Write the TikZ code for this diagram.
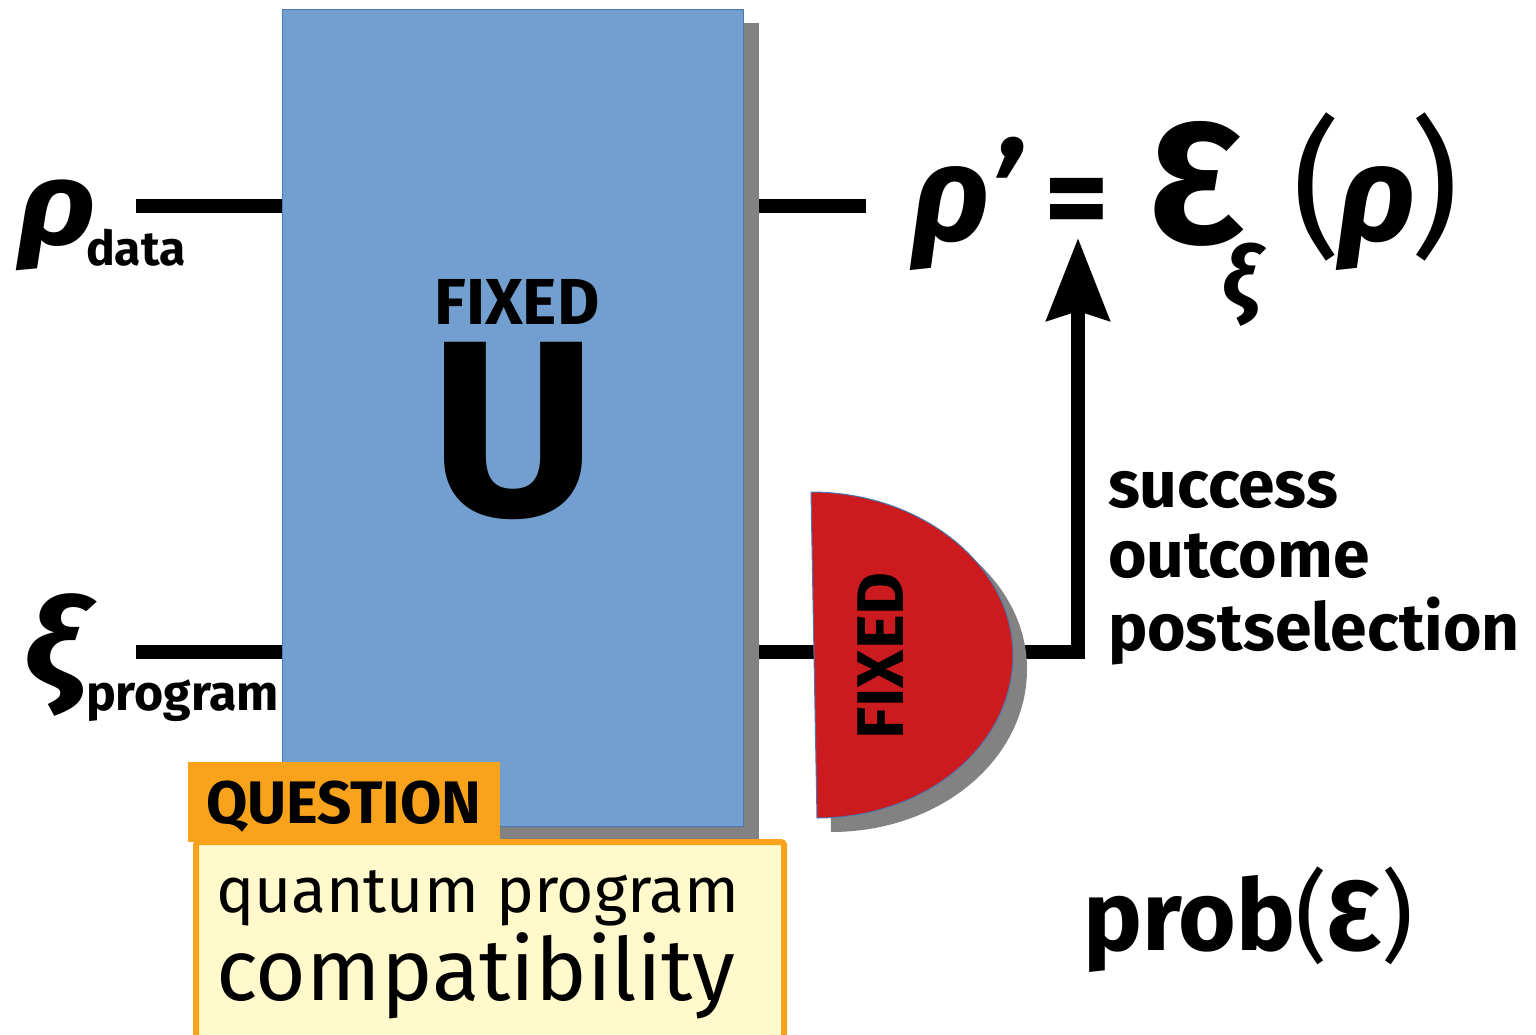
\documentclass[tikz,border=0pt]{standalone}
\usepackage{fontspec}
\setmainfont{Fira Sans}
\usetikzlibrary{arrows.meta}
\definecolor{ublue}{HTML}{729FCF}
\definecolor{ubluedark}{HTML}{4A78B0}
\definecolor{shadowgray}{HTML}{828282}
\definecolor{dred}{HTML}{CC1B1F}
\definecolor{qorange}{HTML}{F8A31B}
\definecolor{qyellow}{HTML}{FFF9CC}
\newcommand{\fs}[1]{\fontsize{#1}{#1}\selectfont}
\begin{document}
\begin{tikzpicture}[x=1pt,y=-1pt,
  wire/.style={line width=14pt, line join=miter},
  lbl/.style={inner sep=0pt, outer sep=0pt, anchor=base west},
  bigB/.style={lbl, font=\fs{#1}\bfseries},
  bigI/.style={lbl, font=\fs{#1}\bfseries\itshape},
  bigR/.style={lbl, font=\fs{#1}}]
\useasboundingbox (0,0) rectangle (1536,1034);

% ---- blue unitary box (node) ----
\fill[shadowgray] (298,23) rectangle (759,840);
\node[draw=ubluedark, fill=ublue, line width=1pt, inner sep=0pt,
      minimum width=461pt, minimum height=817pt] (U) at (512.5,417.5) {};

% ---- coordinates ----
\coordinate (rdL) at (136,206);
\coordinate (rhoout) at (866,206);
\coordinate (prL) at (136,652);
\coordinate (Din) at (830,652);
\coordinate (Dout) at (1010,652);
\coordinate (tip) at (1078,238);

% ---- wires ----
\draw[wire] (rdL) -- (U.west |- rdL);
\draw[wire] (U.east |- rdL) -- (rhoout);
\draw[wire] (prL) -- (U.west |- prL);
\draw[wire] (U.east |- prL) -- (Din);
\draw[wire, -{Stealth[length=82pt, width=62pt, inset=9pt]}] (Dout) -- (Dout -| tip) -- (tip);

% redraw shadow strip and box over wire ends
\fill[shadowgray] (744,23) rectangle (759,840);
\node[draw=ubluedark, fill=ublue, line width=1pt, inner sep=0pt,
      minimum width=461pt, minimum height=817pt] at (U) {};

% ---- measurement D ----
\fill[shadowgray, shift={(14,14)}] (811,492) .. controls (921,492) and (1013,565) .. (1013,655)
   .. controls (1013,745) and (927,818) .. (817,818) -- cycle;
\filldraw[fill=dred, draw=ubluedark, line width=1pt] (811,492) .. controls (921,492) and (1013,565) .. (1013,655)
   .. controls (1013,745) and (927,818) .. (817,818) -- cycle;
\node[inner sep=0pt, rotate=90, font=\fs{66}\bfseries] (dfixed) at (881,656) {FIXED};

% ---- U labels ----
\node[inner sep=0pt, font=\fs{65}\bfseries] (ufixed) at (517,302) {FIXED};
\node[inner sep=0pt, font=\fs{250}\bfseries, xscale=1.02, anchor=base] (ulet) at (513,515) {U};

% ---- input labels ----
\node[bigI=118, xscale=1.15] (rho) at (18,244) {ρ};
\node[bigB=48] (data) at (86,265) {data};
\node[bigI=125, xscale=1.12] (xi) at (24,688) {ξ};
\node[bigB=50] (prog) at (86,710) {program};

% ---- output formula ----
\node[bigI=135] (rhop) at (912,240) {ρ’};
\node[bigB=125] (eq) at (1044,240) {=};
\node[bigB=172] (eps) at (1150,243) {Ɛ};
\node[bigI=85] (xisub) at (1222,307) {ξ};
\node[bigR=150] (lp) at (1292,239) {(};
\node[bigI=135] (rhoin) at (1338,240) {ρ};
\node[bigR=150] (rp) at (1410,239) {)};

% ---- postselection text ----
\node[bigB=66] (t1) at (1108,507) {success};
\node[bigB=66] (t2) at (1108,577) {outcome};
\node[bigB=66] (t3) at (1108,650) {postselection};

% ---- prob ----
\node[lbl, font=\fs{99}] (prob) at (1083,950) {\bfseries prob\mdseries(\bfseries Ɛ\mdseries)};

% ---- question box ----
\node[fill=qorange, inner sep=0pt, minimum width=312pt, minimum height=80pt, anchor=north west] (qtab) at (188,762) {};
\node[draw=qorange, fill=qyellow, line width=6pt, rounded corners=3pt, inner sep=0pt,
      minimum width=588pt, minimum height=204pt, anchor=north west] (qbox) at (193,839) {};
\node[bigB=60] (qt) at (206,823) {QUESTION};
\node[bigR=64] (q1) at (216,912) {quantum program};
\node[bigR=87] (q2) at (216,1000) {compatibility};
\end{tikzpicture}
\end{document}
